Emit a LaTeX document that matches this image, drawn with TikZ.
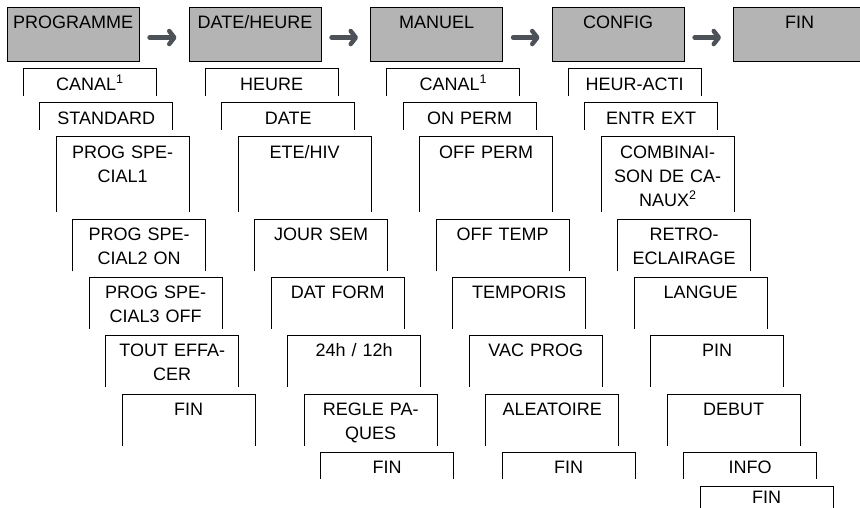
\documentclass[tikz,border=0pt]{standalone}
\usepackage{fontspec}
\newfontfamily\menufont{Liberation Sans}
\usetikzlibrary{arrows.meta}
\definecolor{menugray}{RGB}{180,180,180}
\definecolor{arrowgray}{RGB}{76,82,88}
\newcommand{\menutext}{\menufont\fontsize{18}{24}\selectfont}
\newcommand{\fnmark}[1]{\raisebox{6.5pt}{\fontsize{12.5}{12.5}\selectfont #1}}

\begin{document}
\begin{tikzpicture}[x=1pt, y=-1pt,
  topbox/.style={draw=black, line width=1.1pt, fill=menugray, anchor=north west, inner sep=0pt, text width=132pt, align=center, text height=20.5pt, text depth=33.5pt, font=\menutext},
  subbox/.style={anchor=north west, inner sep=0pt, text width=133pt, align=center, text height=21pt, font=\menutext},
  single/.style={text depth=5.5pt},
  double/.style={text depth=30.5pt},
  triple/.style={text depth=54pt},
  frame/.style={draw=black, line width=1pt},
  flow/.style={draw=arrowgray, line width=4.5pt, line cap=round, -{Straight Barb[round, length=5pt, width=13pt]}, shorten <=10pt, shorten >=12pt}]
  \useasboundingbox (0,0) rectangle (860,508);
  \clip (0,0) rectangle (860,508);

  % Main menu
  \node[topbox] (prog) at (6.5,7) {PROGRAMME};
  \node[topbox] (datehr) at (188.5,7) {DATE/HEURE};
  \node[topbox] (manuel) at (370,7) {MANUEL};
  \node[topbox] (config) at (551.5,7) {CONFIG};
  \node[topbox] (fin) at (733,7) {FIN};

  \draw[flow] ([yshift=-3pt]prog.east) -- ([yshift=-3pt]datehr.west);
  \draw[flow] ([yshift=-3pt]datehr.east) -- ([yshift=-3pt]manuel.west);
  \draw[flow] ([yshift=-3pt]manuel.east) -- ([yshift=-3pt]config.west);
  \draw[flow] ([yshift=-3pt]config.east) -- ([yshift=-3pt]fin.west);

  % PROGRAMME
  \node[subbox, single] (canalP) at (23,69) {CANAL\fnmark{1}};
  \node[subbox, single] (standard) at (39.5,103) {STANDARD};
  \node[subbox, triple] (special1) at (56,137) {PROG SPE-\\CIAL1};
  \node[subbox, double] (special2) at (72.5,219.5) {PROG SPE-\\CIAL2 ON};
  \node[subbox, double] (special3) at (89,277) {PROG SPE-\\CIAL3 OFF};
  \node[subbox, double] (effacer) at (105.5,335) {TOUT EFFA-\\CER};
  \node[subbox, double] (finP) at (122,394) {FIN};

  % DATE/HEURE
  \node[subbox, single] (heure) at (205,69) {HEURE};
  \node[subbox, single] (date) at (221.5,103) {DATE};
  \node[subbox, triple] (etehiv) at (238,137) {ETE/HIV};
  \node[subbox, double] (joursem) at (254.5,219.5) {JOUR SEM};
  \node[subbox, double] (datform) at (271,277) {DAT FORM};
  \node[subbox, double] (hform) at (287.5,335) {24h / 12h};
  \node[subbox, double] (paques) at (304,394) {REGLE PA-\\QUES};
  \node[subbox, single] (finD) at (320.5,452) {FIN};

  % MANUEL
  \node[subbox, single] (canalM) at (386.5,69) {CANAL\fnmark{1}};
  \node[subbox, single] (onperm) at (403,103) {ON PERM};
  \node[subbox, triple] (offperm) at (419.5,137) {OFF PERM};
  \node[subbox, double] (offtemp) at (436,219.5) {OFF TEMP};
  \node[subbox, double] (temporis) at (452.5,277) {TEMPORIS};
  \node[subbox, double] (vacprog) at (469,335) {VAC PROG};
  \node[subbox, double] (aleatoire) at (485.5,394) {ALEATOIRE};
  \node[subbox, single] (finM) at (502,452) {FIN};

  % CONFIG
  \node[subbox, single] (heuracti) at (568,69) {HEUR-ACTI};
  \node[subbox, single] (entrext) at (584.5,103) {ENTR EXT};
  \node[subbox, triple] (combi) at (601,137) {COMBINAI-\\SON DE CA-\\NAUX\fnmark{2}};
  \node[subbox, double] (retro) at (617.5,219.5) {RETRO-\\ECLAIRAGE};
  \node[subbox, double] (langue) at (634,277) {LANGUE};
  \node[subbox, double] (pin) at (650.5,335) {PIN};
  \node[subbox, double] (debut) at (667,394) {DEBUT};
  \node[subbox, single] (info) at (683.5,452) {INFO};
  \node[subbox, text height=17.5pt, text depth=4.5pt] (finC) at (700,486) {FIN};

  % open frames (no bottom line)
  \foreach \n in {canalP, standard, special1, special2, special3, effacer, finP,
    heure, date, etehiv, joursem, datform, hform, paques, finD,
    canalM, onperm, offperm, offtemp, temporis, vacprog, aleatoire, finM,
    heuracti, entrext, combi, retro, langue, pin, debut, info, finC}
    \draw[frame] (\n.south west) |- (\n.north east) -- (\n.south east);
\end{tikzpicture}
\end{document}
